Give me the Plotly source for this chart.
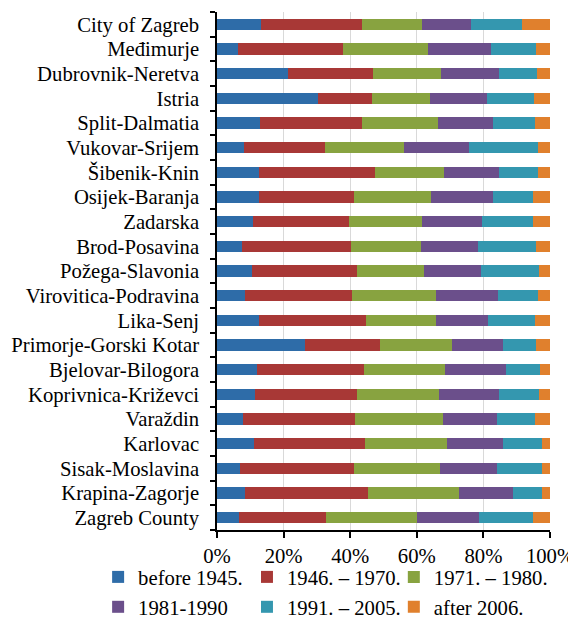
import plotly.graph_objects as go

categories = ["City of Zagreb", "Međimurje", "Dubrovnik-Neretva", "Istria", "Split-Dalmatia",
              "Vukovar-Srijem", "Šibenik-Knin", "Osijek-Baranja", "Zadarska", "Brod-Posavina",
              "Požega-Slavonia", "Virovitica-Podravina", "Lika-Senj", "Primorje-Gorski Kotar",
              "Bjelovar-Bilogora", "Koprivnica-Križevci", "Varaždin", "Karlovac",
              "Sisak-Moslavina", "Krapina-Zagorje", "Zagreb County"]

before_1945 = [13.1, 6.3, 21.2, 30.4, 12.9, 8.2, 12.7, 12.7, 10.8, 7.5, 10.6, 8.4, 12.7, 26.4, 11.9, 11.4, 7.7, 11.1, 6.8, 8.5, 6.6]
y1946_1970 = [30.5, 31.6, 25.6, 16.1, 30.6, 24.2, 34.7, 28.4, 28.7, 32.7, 31.5, 32.1, 32.0, 22.5, 32.2, 30.7, 33.6, 33.3, 34.3, 36.7, 26.0]
y1971_1980 = [18.0, 25.5, 20.5, 17.6, 22.9, 23.9, 20.9, 23.2, 22.2, 21.1, 20.1, 25.2, 21.0, 21.7, 24.5, 24.6, 26.6, 24.7, 25.8, 27.4, 27.5]
y1981_1990 = [14.6, 18.9, 17.3, 16.9, 16.5, 19.4, 16.5, 18.6, 17.8, 17.2, 17.1, 18.8, 15.7, 15.3, 18.1, 17.9, 16.2, 16.9, 17.3, 16.2, 18.6]
y1991_2005 = [15.4, 13.6, 11.5, 14.3, 12.7, 20.6, 11.7, 12.1, 15.5, 17.2, 17.3, 11.8, 14.2, 9.9, 10.2, 12.1, 11.5, 11.6, 13.4, 8.9, 16.1]
after_2006 = [8.4, 4.1, 3.9, 4.7, 4.4, 3.7, 3.5, 5.0, 5.0, 4.3, 3.4, 3.7, 4.4, 4.2, 3.1, 3.3, 4.4, 2.4, 2.4, 2.3, 5.2]

series_names = ["before 1945.", "1946. – 1970.", "1971. – 1980.", "1981-1990", "1991. – 2005.", "after 2006."]
series_values = [before_1945, y1946_1970, y1971_1980, y1981_1990, y1991_2005, after_2006]
colors = ["#2E6CA8", "#A83836", "#88A340", "#6B4F8B", "#3497AF", "#E0802D"]

legend_ids = ["legend", "legend2", "legend3"]

fig = go.Figure()
for i, (name, vals, col) in enumerate(zip(series_names, series_values, colors)):
    fig.add_trace(go.Bar(
        y=categories, x=vals, name=name, orientation="h",
        marker=dict(color=col, line=dict(width=0)),
        legend=legend_ids[i % 3],
    ))

font_family = "Liberation Serif"
fs = 20.7


def legend_at(x):
    return dict(
        orientation="v", x=x, xanchor="left", y=-0.052, yanchor="top",
        traceorder="normal", bgcolor="rgba(0,0,0,0)",
        font=dict(family=font_family, size=fs, color="black"),
        itemwidth=30, tracegroupgap=0,
    )


# the page has an 8px body margin, so the figure is drawn 8px smaller
fig.update_layout(
    barmode="stack",
    barnorm="percent",
    bargap=0.55,
    width=568, height=613,
    margin=dict(l=209, r=26, t=4, b=91, autoexpand=False),
    plot_bgcolor="white", paper_bgcolor="white",
    font=dict(family=font_family, size=fs, color="black"),
    showlegend=True,
    legend=legend_at(-0.357),
    legend2=legend_at(0.090),
    legend3=legend_at(0.531),
    xaxis=dict(
        range=[0, 100], dtick=20, ticksuffix="%",
        showgrid=True, gridcolor="#D9D9D9", gridwidth=1,
        showline=True, linecolor="black", linewidth=1.5,
        ticks="outside", ticklen=6, tickcolor="black", tickwidth=1.5,
        zeroline=False, tickfont=dict(size=fs),
    ),
    yaxis=dict(
        autorange="reversed",
        tickmode="array", tickvals=categories, ticktext=categories,
        showline=True, linecolor="black", linewidth=1.5,
        ticks="outside", ticklen=5, tickcolor="black", tickwidth=1.5,
        tickson="boundaries", showgrid=False,
        tickfont=dict(size=fs), ticklabelstandoff=12,
    ),
)

fig.write_html("out.html")
